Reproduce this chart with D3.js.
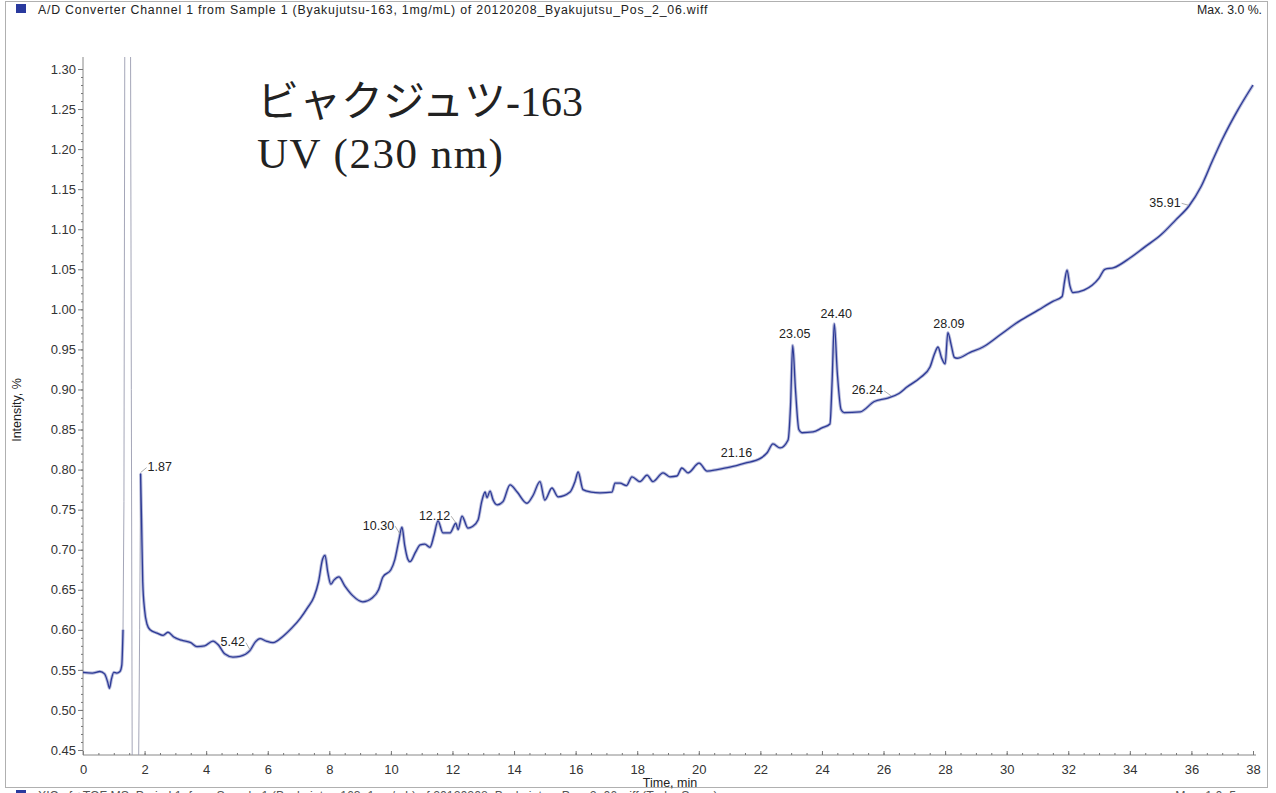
<!DOCTYPE html>
<html><head><meta charset="utf-8">
<script src="https://cdn.jsdelivr.net/npm/d3@7"></script>
<style>
html,body{margin:0;padding:0;background:#fff;}
svg{display:block;font-family:"Liberation Sans",Arial,sans-serif;}
</style></head>
<body>
<svg id="c" width="1276" height="793"></svg>
<script>
// ---- data ----
const timeMin = [0.00,0.30,0.55,0.70,0.80,0.86,0.92,1.00,1.10,1.20,1.26,1.30,1.33,1.36,1.54,1.57,1.60,1.80,1.84,1.87,1.90,1.94,2.00,2.08,2.18,2.40,2.60,2.76,2.95,3.20,3.50,3.70,3.95,4.22,4.40,4.60,4.87,5.10,5.42,5.60,5.75,5.95,6.17,6.50,6.80,7.05,7.30,7.50,7.65,7.78,7.86,7.95,8.05,8.15,8.31,8.50,8.75,9.09,9.40,9.60,9.74,10.00,10.13,10.25,10.36,10.45,10.55,10.62,10.80,10.95,11.10,11.27,11.40,11.53,11.69,11.92,12.11,12.18,12.31,12.50,12.65,12.83,12.95,13.06,13.12,13.22,13.32,13.45,13.64,13.87,14.10,14.42,14.62,14.84,15.00,15.23,15.43,15.82,15.98,16.08,16.24,16.50,16.79,17.18,17.28,17.44,17.65,17.83,18.09,18.32,18.51,18.84,19.06,19.29,19.45,19.65,20.01,20.27,20.60,21.01,21.50,22.00,22.22,22.41,22.64,22.90,22.98,23.05,23.14,23.25,23.35,23.71,24.00,24.26,24.33,24.40,24.50,24.62,24.72,25.24,25.70,26.11,26.50,26.76,27.20,27.51,27.66,27.77,27.88,28.00,28.09,28.20,28.30,28.39,28.80,29.23,29.78,30.40,31.02,31.50,31.80,31.88,31.96,32.05,32.15,32.51,33.00,33.19,33.48,34.00,34.49,35.01,35.50,35.92,36.31,36.70,37.00,37.51,38.00];
const intensity = [0.547,0.546,0.548,0.545,0.535,0.527,0.538,0.547,0.546,0.548,0.556,0.600,0.760,1.400,1.400,0.900,0.400,0.400,0.600,0.795,0.740,0.660,0.625,0.607,0.600,0.596,0.593,0.597,0.591,0.587,0.584,0.579,0.580,0.586,0.581,0.570,0.566,0.567,0.574,0.585,0.589,0.586,0.584,0.592,0.603,0.614,0.628,0.641,0.660,0.688,0.693,0.672,0.657,0.662,0.666,0.655,0.643,0.635,0.640,0.650,0.666,0.675,0.688,0.710,0.728,0.705,0.688,0.685,0.697,0.706,0.707,0.703,0.718,0.736,0.721,0.721,0.733,0.725,0.742,0.727,0.729,0.737,0.760,0.772,0.765,0.773,0.762,0.756,0.760,0.781,0.772,0.758,0.768,0.785,0.762,0.777,0.766,0.772,0.785,0.797,0.775,0.772,0.771,0.772,0.783,0.783,0.780,0.791,0.785,0.793,0.785,0.796,0.791,0.792,0.802,0.796,0.808,0.798,0.800,0.803,0.808,0.814,0.821,0.832,0.827,0.837,0.880,0.955,0.900,0.850,0.846,0.847,0.852,0.857,0.910,0.982,0.920,0.875,0.871,0.872,0.885,0.889,0.895,0.903,0.915,0.928,0.945,0.953,0.940,0.932,0.971,0.955,0.940,0.939,0.946,0.953,0.968,0.985,0.999,1.010,1.016,1.035,1.049,1.030,1.021,1.024,1.039,1.050,1.052,1.064,1.078,1.093,1.112,1.129,1.153,1.187,1.212,1.249,1.280];
const peakLabels = ["1.87","5.42","10.30","12.12","21.16","23.05","24.40","26.24","28.09","35.91"];
const xTickValues = [0,2,4,6,8,10,12,14,16,18,20,22,24,26,28,30,32,34,36,38];
const yTickValues = [0.45,0.50,0.55,0.60,0.65,0.70,0.75,0.80,0.85,0.90,0.95,1.00,1.05,1.10,1.15,1.20,1.25,1.30];
const headerText = "A/D Converter Channel 1 from Sample 1 (Byakujutsu-163, 1mg/mL) of 20120208_Byakujutsu_Pos_2_06.wiff";
const headerMax = "Max. 3.0 %.";
const nextHeaderText = "XIC of +TOF MS: Period 1, from Sample 1 (Byakujutsu-163, 1mg/mL) of 20120208_Byakujutsu_Pos_2_06.wiff (Turbo Spray)";
const nextHeaderMax = "Max. 1.0e5 cps.";
const titleLines = ["ビャクジュツ-163","UV (230 nm)"];
const xTitle = "Time, min", yTitle = "Intensity, %";

// ---- styles / layout ----
// label offsets [dx, dy, anchor, leader]
const labelStyle = [[7,-7,"start",true],[-5,-9,"end",true],[-6,-10,"end",true],[-6,-9,"end",true],[2,-13,"middle",false],[2,-12,"middle",false],[2,-10,"middle",false],[-8,-7,"end",true],[1,-9,"middle",false],[-8,-4,"end",true]];
const lineColor = "#2d3a96";
const svg = d3.select("#c");
const x = d3.scaleLinear().domain([0,38]).range([83,1253]);
const y = d3.scaleLinear().domain([0.45,1.30]).range([750,69]);
const plotTop = 57, plotBottom = 755, plotRight = 1256;

// frame
svg.append("rect").attr("x",5.5).attr("y",1.5).attr("width",1262).attr("height",786)
  .attr("fill","none").attr("stroke","#b0b0b0").attr("stroke-width",1);
svg.append("rect").attr("x",16).attr("y",4).attr("width",10).attr("height",9).attr("fill","#2a3a9e");
svg.append("text").attr("x",38).attr("y",14).attr("font-size",12.3).attr("letter-spacing",0.8).attr("fill","#222").text(headerText);
svg.append("text").attr("x",1262).attr("y",14).attr("text-anchor","end").attr("font-size",12.3).attr("fill","#222").text(headerMax);
// next panel (cut off by the picture edge, as in the reference)
svg.append("rect").attr("x",16).attr("y",790).attr("width",10).attr("height",9).attr("fill","#2a3a9e");
svg.append("text").attr("x",38).attr("y",800).attr("font-size",12.3).attr("fill","#555").text(nextHeaderText);
svg.append("text").attr("x",1262).attr("y",800).attr("text-anchor","end").attr("font-size",12.3).attr("fill","#555").text(nextHeaderMax);

// clip
svg.append("clipPath").attr("id","pc").append("rect")
  .attr("x",83).attr("y",plotTop).attr("width",plotRight-83).attr("height",plotBottom-plotTop);

// axes
const gx = svg.append("g").attr("transform",`translate(0,${plotBottom})`)
  .call(d3.axisBottom(x).tickValues(xTickValues).tickSize(-4).tickPadding(10).tickFormat(d3.format("d")));
const gxm = svg.append("g").attr("transform",`translate(0,${plotBottom})`)
  .call(d3.axisBottom(x).tickValues(d3.range(0,38.01,0.5)).tickSize(-2).tickFormat(""));
gxm.select(".domain").remove();
const gy = svg.append("g").attr("transform","translate(83,0)")
  .call(d3.axisLeft(y).tickValues(yTickValues).tickSize(5).tickPadding(2).tickFormat(d3.format(".2f")));
const gym = svg.append("g").attr("transform","translate(83,0)")
  .call(d3.axisLeft(y).tickValues(d3.range(0.45,1.305,0.01)).tickSize(2).tickFormat(""));
gym.select(".domain").remove();
[gx,gy,gxm,gym].forEach(g=>{
  g.selectAll("line").attr("stroke","#777");
  g.selectAll("text").attr("font-size",13).attr("fill","#333").attr("font-family","Liberation Sans, Arial, sans-serif");
});
gx.select(".domain").attr("d",`M83,0H${plotRight}`).attr("stroke","#888");
gy.select(".domain").attr("d",`M0,${plotTop}V${plotBottom}`).attr("stroke","#888");

svg.append("text").attr("x",670).attr("y",787).attr("text-anchor","middle").attr("font-size",12.5).attr("fill","#222").text(xTitle);
svg.append("text").attr("transform","translate(21,410) rotate(-90)").attr("text-anchor","middle").attr("font-size",12.5).attr("fill","#222").text(yTitle);

// trace
const data = timeMin.map((t,i)=>({t, v:intensity[i]}));
const line = d3.line().x(d=>x(d.t)).y(d=>y(d.v)).curve(d3.curveMonotoneX);
const gp = svg.append("g").attr("clip-path","url(#pc)");
const segA = data.filter(d=>d.t<=1.30), segB = data.filter(d=>d.t>=1.30 && d.t<=1.87), segC = data.filter(d=>d.t>=1.87);
gp.append("path").attr("d",d3.line().x(d=>x(d.t)).y(d=>y(d.v))(segB)).attr("fill","none").attr("stroke","#9a9cb0").attr("stroke-width",0.9);
[segA,segC].forEach(s=>{
  gp.append("path").attr("d",line(s)).attr("fill","none").attr("stroke",lineColor).attr("stroke-opacity",0.35).attr("stroke-width",3.2).attr("stroke-linejoin","round");
  gp.append("path").attr("d",line(s)).attr("fill","none").attr("stroke",lineColor).attr("stroke-width",1.3).attr("stroke-linejoin","round");
});

// peak labels
const bis = d3.bisector(d=>d.t).left;
function valueAt(t){
  const i = Math.max(1, Math.min(data.length-1, bis(data,t)));
  const a=data[i-1], b=data[i];
  return a.v + (b.v-a.v)*(t-a.t)/(b.t-a.t);
}
peakLabels.forEach((lab,i)=>{
  const t = +lab;
  const ax = x(t), ay = y(valueAt(t));
  const [dx,dy,anc,leader] = labelStyle[i];
  const tx = ax+dx, ty = ay+dy;
  if(leader){
    const lx = anc==="start" ? tx-1 : tx+1;
    svg.append("line").attr("x1",lx).attr("y1",ty+1).attr("x2",ax).attr("y2",ay-1).attr("stroke","#999").attr("stroke-width",0.8);
  }
  svg.append("text").attr("x",tx).attr("y",ty).attr("dy","0.35em").attr("text-anchor",anc)
    .attr("font-size",12.5).attr("fill","#222").text(lab);
});

// annotation
svg.append("text").attr("x",257).attr("y",116).attr("font-size",42).attr("fill","#222")
  .attr("font-family","'Liberation Serif','Noto Sans CJK JP',serif").text(titleLines[0]);
svg.append("text").attr("x",257).attr("y",168).attr("font-size",43).attr("fill","#222")
  .attr("font-family","'Liberation Serif','Noto Sans CJK JP',serif").attr("letter-spacing",1.5).text(titleLines[1]);
</script>
</body></html>
